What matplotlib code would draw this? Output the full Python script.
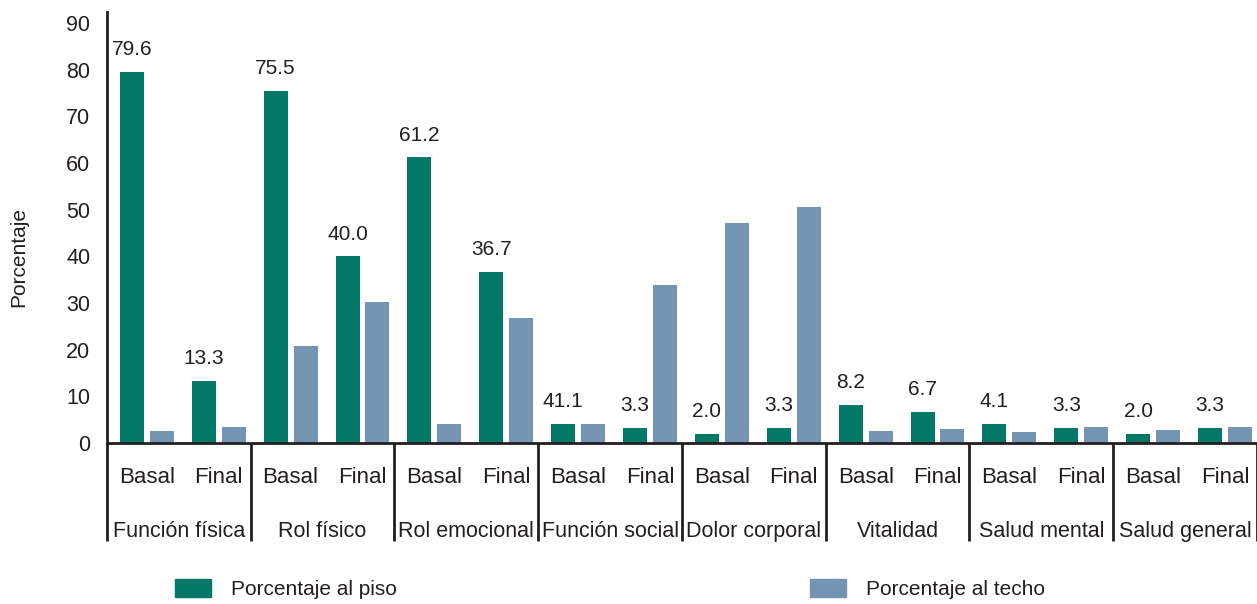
import numpy as np
import matplotlib
matplotlib.use("Agg")
import matplotlib.pyplot as plt
from matplotlib.patches import Patch
from matplotlib.transforms import blended_transform_factory

plt.rcParams["font.family"] = ["Liberation Sans", "DejaVu Sans"]
plt.rcParams["font.size"] = 15

# data
dimensions = ["Función física", "Rol físico", "Rol emocional", "Función social",
              "Dolor corporal", "Vitalidad", "Salud mental", "Salud general"]
moments = ["Basal", "Final"]
piso = [79.6, 13.3, 75.5, 40.0, 61.2, 36.7, 4.1, 3.3,
        2.0, 3.3, 8.2, 6.7, 4.1, 3.3, 2.0, 3.3]
techo = [2.5, 3.4, 20.7, 30.2, 4.0, 26.7, 4.0, 33.8,
         47.1, 50.5, 2.5, 3.0, 2.3, 3.4, 2.8, 3.5]
piso_labels = ["79.6", "13.3", "75.5", "40.0", "61.2", "36.7", "41.1", "3.3",
               "2.0", "3.3", "8.2", "6.7", "4.1", "3.3", "2.0", "3.3"]

green = "#037866"
blue = "#7394b3"
ink = "#231f20"

fig = plt.figure(figsize=(12.57, 6.04), dpi=100)
ax = fig.add_axes([0.0851, 0.2666, 0.9149, 0.7136])

x = np.arange(len(piso)) + 0.555
w = 0.333
ax.bar(x - 0.208, piso, w, color=green)
ax.bar(x + 0.208, techo, w, color=blue)

for xi, v, lab in zip(x, piso, piso_labels):
    ax.annotate(lab, (xi - 0.208, v), xytext=(0, 9), textcoords="offset points",
                ha="center", va="bottom", color=ink, fontsize=15)

ax.set_xlim(0, 16)
ax.set_ylim(0, 92.4)
ax.set_yticks(range(0, 91, 10))
ax.set_xticks([])
ax.tick_params(axis="y", length=0, pad=12, labelsize=15.5, colors=ink)
ax.set_ylabel("Porcentaje", fontsize=15, color=ink)
ax.yaxis.set_label_coords(-0.0687, 0.432)

for s in ["top", "right"]:
    ax.spines[s].set_visible(False)
for s in ["left", "bottom"]:
    ax.spines[s].set_color(ink)
    ax.spines[s].set_linewidth(2.0)

trans = blended_transform_factory(ax.transData, ax.transAxes)
for g in range(len(dimensions) + 1):
    ax.plot([2 * g, 2 * g], [0, -0.227], transform=trans, color=ink,
            lw=2.0, clip_on=False, solid_capstyle="butt")
for i, xi in enumerate(x):
    ax.text(xi, -0.081, moments[i % 2], transform=trans, ha="center",
            va="center", fontsize=16, color=ink)
for g, name in enumerate(dimensions):
    ax.text(2 * g + 1, -0.2065, name, transform=trans, ha="center",
            va="center", fontsize=15.5, color=ink)

leg_kw = dict(loc="center left", frameon=False, borderpad=0, borderaxespad=0,
              handlelength=1.75, handleheight=1.0, handletextpad=0.95,
              fontsize=15, labelcolor=ink)
fig.legend(handles=[Patch(color=green, label="Porcentaje al piso")],
           bbox_to_anchor=(0.139, 0.025), **leg_kw)
fig.legend(handles=[Patch(color=blue, label="Porcentaje al techo")],
           bbox_to_anchor=(0.644, 0.025), **leg_kw)

fig.savefig("out.png", dpi=100)
